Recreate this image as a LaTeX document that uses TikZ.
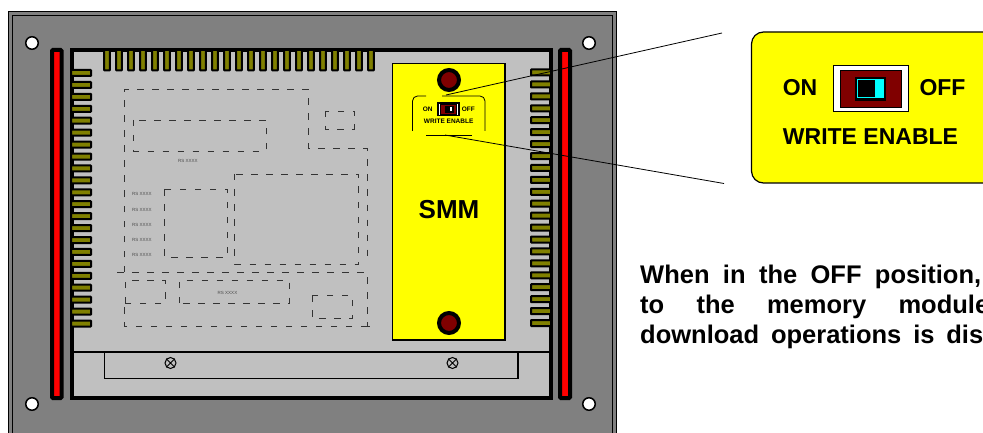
\documentclass[tikz,border=0pt]{standalone}
\usepackage{xcolor}
\usepackage{fontspec}
\setmainfont{Liberation Sans}
\usepackage{tikz}
\definecolor{panelgray}{HTML}{808080}
\definecolor{boardgray}{HTML}{C0C0C0}
\definecolor{pinolive}{HTML}{808000}
\definecolor{knobred}{HTML}{800000}
\definecolor{barred}{HTML}{FF0000}
\definecolor{cardyellow}{HTML}{FFFF00}
\definecolor{slidecyan}{HTML}{00FFFF}
\tikzset{
  dashbox/.style={draw=black!80,line width=0.8pt,dash pattern=on 6.5pt off 8.5pt},
  pinbox/.style={draw=black,line width=2pt,fill=pinolive,rounded corners=0.5pt},
  tinylabel/.style={font=\fontsize{4.5}{4.5}\selectfont,text=black!70,inner sep=0pt},
  lbl/.style={inner sep=0pt},
}
\begin{document}
\begin{tikzpicture}[x=1pt,y=-1pt]
\useasboundingbox (0,0) rectangle (983,433);
% panel
\draw[fill=panelgray,line width=1pt] (8.5,11.5) -- (616,11.5) -- (616,440) -- (8.5,440) -- cycle;
\draw[line width=1pt] (12.5,440) -- (12.5,15.5) -- (612.5,15.5) -- (612.5,440);
\foreach \hx/\hy/\hname in {32/43/holea,589/43/holeb,32/404/holec,589/404/holed}
  \node[circle,draw=black,fill=white,line width=1.5pt,minimum size=12.5pt,inner sep=0pt] (\hname) at (\hx,\hy) {};
% red bars
\draw[line width=4pt,fill=barred,rounded corners=1pt] (52,50) rectangle (61.5,398);
\draw[line width=4pt,fill=barred,rounded corners=1pt] (560,50) rectangle (570,398);
% board
\draw[line width=4pt,fill=boardgray] (72,50) rectangle (550.5,398);
\draw[line width=2.5pt] (70,352) -- (550,352);
\draw[line width=1.5pt] (104.5,352) -- (104.5,378.5) -- (518,378.5) -- (518,352);
\foreach \sx/\sname in {170.5/screwa,452.5/screwb}{
  \node[circle,draw=black,line width=1pt,minimum size=11pt,inner sep=0pt] (\sname) at (\sx,363) {};
  \draw[line width=0.8pt] (\sname.45) -- (\sname.225) (\sname.135) -- (\sname.315);
}
% pins
\foreach \i in {0,...,22}
  \draw[pinbox] ({107+12*\i-2.8},50) rectangle ({107+12*\i+2.8},70.3);
\foreach \i in {0,...,21}{
  \draw[pinbox] (71,{73+11.93*\i-3}) rectangle (91,{73+11.93*\i+3});
  \draw[pinbox] (531,{72.5+11.93*\i-3}) rectangle (551,{72.5+11.93*\i+3});
}
% dashed layout
\draw[dashbox] (124.5,272) -- (124.5,89.5) -- (308,89.5) -- (308,148.5) -- (367,148.5) -- (367,264);
\draw[dashbox] (117,272) -- (367,272) -- (367,326) -- (373,326);
\draw[dashbox] (367,326) -- (124.5,326) -- (124.5,303);
\draw[dashbox] (125,303) -- (125,280) -- (165,280) -- (165,303) -- cycle;
\draw[dashbox] (179.5,303) -- (179.5,280) -- (289,280) -- (289,303) -- cycle;
\draw[dashbox] (312,295) rectangle (352,318);
\draw[dashbox] (234.5,174) rectangle (358.5,264);
\draw[dashbox] (164,189) rectangle (227,257);
\draw[dashbox] (133.5,120) rectangle (266,151);
\draw[dashbox] (325,111) rectangle (354,129);
\foreach \lx/\ly/\lname in {188/161/rsa,142/194/rsb,142/210/rsc,142/225/rsd,142/240/rse,142/255/rsf,227.5/293/rsg}
  \node[tinylabel] (\lname) at (\lx,\ly) {RS XXXX};
% memory module
\draw[line width=1.5pt,fill=cardyellow] (392.5,63.5) rectangle (505,340);
\foreach \ky/\kname in {80/knoba,323/knobb}
  \node[circle,draw=black,fill=knobred,line width=4pt,minimum size=20pt,inner sep=0pt] (\kname) at (449,\ky) {};
\node[lbl,font=\fontsize{26}{26}\selectfont\bfseries] (smm) at (449,210) {SMM};
\draw[line width=0.8pt,rounded corners=5pt] (426,96) -- (412.5,96) -- (412.5,131);
\draw[line width=0.8pt,rounded corners=5pt] (442,96) -- (485,96) -- (485,131);
\coordinate (bracebot) at (445,135);
\coordinate (bracetop) at (446,95);
\draw[line width=0.8pt] (426,135) -- (472,135);
% small switch
\draw[line width=1.5pt,fill=white] (438,103) rectangle (459,115.5);
\draw[line width=0.8pt,fill=knobred] (440.5,104.5) rectangle (456.5,114);
\draw[line width=0.6pt,fill=black] (445,106.5) rectangle (453,112);
\fill[white] (449.7,107) rectangle (451.8,111.5);
\node[lbl,font=\fontsize{6.5}{6.5}\selectfont\bfseries] (onsmall) at (427.7,109.5) {ON};
\node[lbl,font=\fontsize{6.5}{6.5}\selectfont\bfseries] (offsmall) at (468.3,109.5) {OFF};
\node[lbl,font=\fontsize{6.5}{6.5}\selectfont\bfseries] (wesmall) at (448.7,121.3) {WRITE ENABLE};
% callout
\draw[line width=1.2pt,fill=cardyellow,rounded corners=12pt] (751.5,32) rectangle (1010,183);
\coordinate (calltop) at (722,33);
\coordinate (callbot) at (724,183.5);
\draw[line width=0.8pt] (bracetop) -- (calltop);
\draw[line width=0.8pt] (bracebot) -- (callbot);
\draw[line width=1pt,fill=white] (833.5,66) rectangle (908.5,112);
\draw[line width=1.5pt,fill=knobred] (840.5,70.5) rectangle (901.5,107.5);
\draw[line width=1.5pt,fill=black] (855.5,77.5) rectangle (885.5,100);
\fill[slidecyan] (857,79) rectangle (884,98.5);
\draw[draw=black,line width=0.8pt,fill=black] (858,80) rectangle (874,96.5);
\node[lbl,font=\fontsize{23}{23}\selectfont\bfseries] (onbig) at (800,87.5) {ON};
\node[lbl,font=\fontsize{23}{23}\selectfont\bfseries] (offbig) at (942.5,87.5) {OFF};
\node[lbl,font=\fontsize{23}{23}\selectfont\bfseries] (webig) at (870.5,136.5) {WRITE ENABLE};
% note
\foreach \ty/\tw/\ttext/\tname in {
  283/341/{When in the OFF position,}/notea,
  313.5/349/{to the memory module}/noteb,
  343/343/{download operations is dis}/notec}
  \node[lbl,anchor=base west,font=\fontsize{25.5}{25.5}\selectfont\bfseries] (\tname) at (640,\ty) {\makebox[\tw pt][s]{\ttext}};
\end{tikzpicture}
\end{document}
